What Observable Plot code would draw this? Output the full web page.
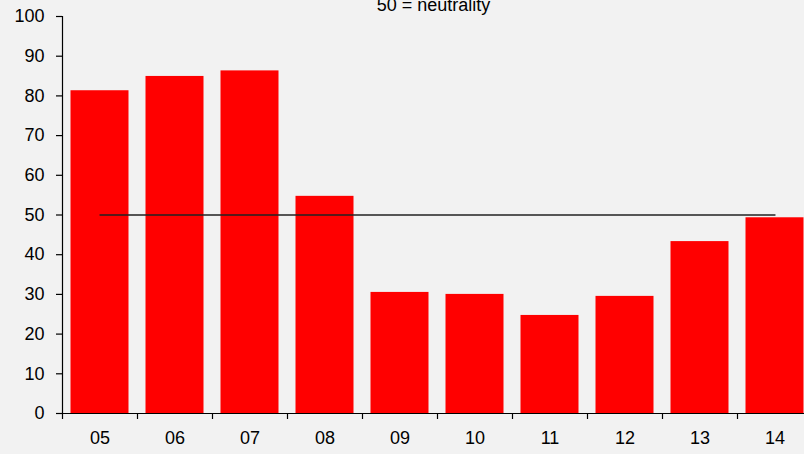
<!DOCTYPE html>
<html>
<head>
<meta charset="utf-8">
<script src="https://cdn.jsdelivr.net/npm/d3@7"></script>
<script src="https://cdn.jsdelivr.net/npm/@observablehq/plot@0.6"></script>
<style>
  html, body { margin: 0; padding: 0; background: #f2f2f2; overflow: hidden; }
  #chart svg { overflow: hidden; display: block; }
</style>
</head>
<body>
<div id="chart"></div>
<script>
const categories = ["05", "06", "07", "08", "09", "10", "11", "12", "13", "14"];
const values = [81.3, 84.9, 86.3, 54.7, 30.5, 30.0, 24.7, 29.5, 43.3, 49.3];
const neutral = 50;
const yTicks = [0, 10, 20, 30, 40, 50, 60, 70, 80, 90, 100];
const title = "50 = neutrality";

const data = categories.map((c, i) => ({cat: c, i, value: values[i]}));
const boundaries = d3.range(0, categories.length + 1);

const chart = Plot.plot({
  width: 804,
  height: 454,
  marginTop: 16,
  marginBottom: 41,
  marginLeft: 62,
  marginRight: 0,
  style: {background: "#f2f2f2", fontFamily: "'Liberation Sans', Arial, sans-serif", fontSize: "18px", color: "#000"},
  x: {type: "linear", domain: [0, categories.length], range: [62, 812], axis: null},
  y: {type: "linear", domain: [0, 100], axis: null},
  marks: [
    Plot.rectY(data, {x1: d => d.i, x2: d => d.i + 1, y1: 0, y2: "value", fill: "#ff0000", insetLeft: 8.5, insetRight: 8.5}),
    Plot.lineY([0, categories.length - 1].map(i => ({x: i + 0.5, y: neutral})), {x: "x", y: "y", stroke: "#222", strokeWidth: 1.3}),
    Plot.ruleX([0], {y1: 0, y2: 100, stroke: "#000", strokeWidth: 1.2}),
    Plot.ruleY([0], {x1: 0, x2: categories.length, stroke: "#000", strokeWidth: 1.2}),
    Plot.axisY(yTicks, {tickSize: 6, tickPadding: 12, fontSize: 18, stroke: "#000", strokeWidth: 1.2, fill: "#000", label: null}),
    Plot.axisX(boundaries, {tickSize: 6, tickFormat: () => "", stroke: "#000", strokeWidth: 1.2, label: null}),
    Plot.text(data, {x: d => d.i + 0.5, y: 0, text: "cat", dy: 25, fontSize: 18, fill: "#000"}),
    Plot.text([title], {frameAnchor: "top", dy: -18.5, fontSize: 18, fill: "#000"})
  ]
});
document.getElementById("chart").appendChild(chart);
</script>
</body>
</html>
